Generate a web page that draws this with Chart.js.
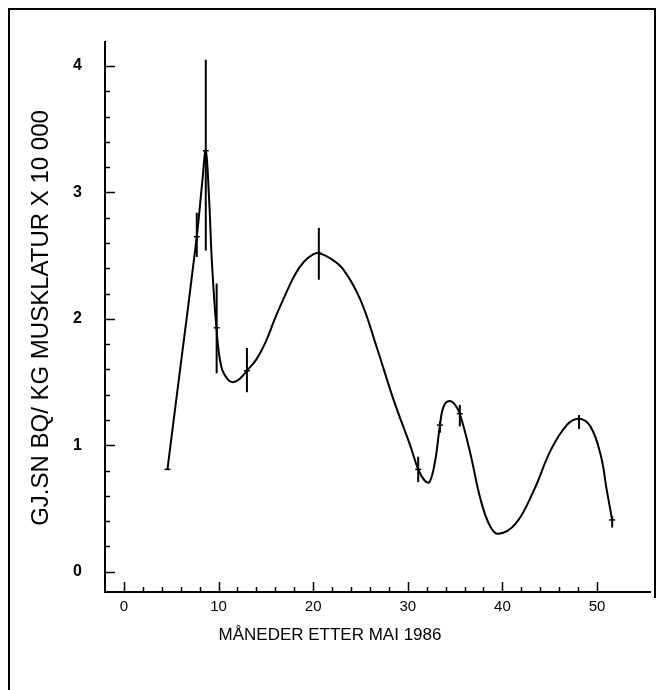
<!DOCTYPE html>
<html>
<head>
<meta charset="utf-8">
<script src="https://cdn.jsdelivr.net/npm/chart.js@4.4.1/dist/chart.umd.min.js"></script>
<style>
  html, body { margin: 0; padding: 0; background: #fff; }
  canvas { display: block; }
</style>
</head>
<body>
<canvas id="chart" width="661" height="690"></canvas>
<script>
// Axis titles and tick labels
const xTitle = "MÅNEDER ETTER MAI 1986";
const yTitle = "GJ.SN BQ/ KG MUSKLATUR X 10 000";
const xTickLabels = [0, 10, 20, 30, 40, 50];
const yTickLabels = [0, 1, 2, 3, 4];

// Measured averages with error bars (months after May 1986)
const pointMonths = [4.6, 7.7, 8.65, 9.8, 13.0, 20.6, 31.1, 33.4, 35.5, 48.1, 51.6];
const pointValues = [0.81, 2.65, 3.33, 1.93, 1.59, 2.52, 0.81, 1.16, 1.25, 1.21, 0.41];
const errLow = [0.81, 2.49, 2.54, 1.57, 1.42, 2.31, 0.71, 1.10, 1.15, 1.13, 0.35];
const errHigh = [0.81, 2.84, 4.05, 2.28, 1.77, 2.72, 0.91, 1.19, 1.32, 1.24, 0.44];

// Fitted curve
const curveMonths = [4.6, 5.8, 7.7, 8.3, 8.65, 9.0, 9.3, 9.8, 10.3, 11.0, 11.6, 12.3, 13.0, 14.0, 15.0, 16.0, 17.0, 18.0, 19.0, 20.0, 20.6, 21.8, 23.2, 25.0, 26.7, 28.5, 30.3, 31.1, 31.8, 32.3, 32.9, 33.4, 33.8, 34.4, 35.0, 35.5, 36.6, 37.7, 38.7, 39.6, 41.4, 43.3, 45.1, 46.8, 48.1, 49.3, 50.4, 51.0, 51.6];
const curveValues = [0.81, 1.52, 2.65, 3.1, 3.33, 2.95, 2.45, 1.91, 1.62, 1.52, 1.50, 1.53, 1.59, 1.68, 1.82, 2.01, 2.18, 2.34, 2.45, 2.51, 2.52, 2.48, 2.39, 2.15, 1.78, 1.36, 0.99, 0.81, 0.72, 0.71, 0.88, 1.16, 1.31, 1.35, 1.32, 1.25, 0.94, 0.57, 0.36, 0.30, 0.38, 0.64, 0.96, 1.16, 1.21, 1.15, 0.92, 0.66, 0.41];

const font = "'Liberation Sans', Arial, sans-serif";

// Frame round the figure, drawn first
const framePlugin = {
  id: "frame",
  beforeDraw(chart) {
    const ctx = chart.ctx;
    ctx.save();
    ctx.fillStyle = "#fff";
    ctx.fillRect(0, 0, chart.width, chart.height);
    ctx.strokeStyle = "#000";
    ctx.lineWidth = 2;
    ctx.beginPath();
    ctx.moveTo(9, 690);
    ctx.lineTo(9, 9);
    ctx.lineTo(655, 9);
    ctx.lineTo(655, 598);
    ctx.stroke();
    ctx.restore();
  }
};

// Inward tick marks, error bars and axis titles
const extrasPlugin = {
  id: "extras",
  afterDraw(chart) {
    const ctx = chart.ctx;
    const xs = chart.scales.x;
    const ys = chart.scales.y;
    const area = chart.chartArea;
    ctx.save();
    ctx.strokeStyle = "#000";
    ctx.lineWidth = 1.5;

    // x ticks point up into the plot
    for (let v = 0; v <= 50; v += 2) {
      const px = Math.round(xs.getPixelForValue(v)) + 0.5;
      const len = v % 10 === 0 ? 10 : 5;
      ctx.beginPath();
      ctx.moveTo(px, area.bottom);
      ctx.lineTo(px, area.bottom - len);
      ctx.stroke();
    }
    // y ticks point right into the plot
    for (let i = 0; i <= 20; i++) {
      const py = Math.round(ys.getPixelForValue(i / 5)) + 0.5;
      const len = i % 5 === 0 ? 10 : 5;
      ctx.beginPath();
      ctx.moveTo(area.left, py);
      ctx.lineTo(area.left + len, py);
      ctx.stroke();
    }

    // error bars
    ctx.lineWidth = 2;
    pointMonths.forEach((m, i) => {
      if (errHigh[i] === errLow[i]) return;
      const px = xs.getPixelForValue(m);
      ctx.beginPath();
      ctx.moveTo(px, ys.getPixelForValue(errLow[i]));
      ctx.lineTo(px, ys.getPixelForValue(errHigh[i]));
      ctx.stroke();
    });

    // titles
    ctx.fillStyle = "#000";
    ctx.font = "17px " + font;
    ctx.textAlign = "center";
    ctx.textBaseline = "middle";
    ctx.fillText(xTitle, 330, 635);
    ctx.translate(41, 318);
    ctx.rotate(-Math.PI / 2);
    ctx.font = "24px " + font;
    ctx.fillText(yTitle, 0, 0);
    ctx.restore();
  }
};

new Chart(document.getElementById("chart"), {
  type: "scatter",
  data: {
    datasets: [
      {
        label: "kurve",
        data: curveMonths.map((m, i) => ({ x: m, y: curveValues[i] })),
        showLine: true,
        borderColor: "#000",
        borderWidth: 2,
        pointRadius: 0,
        tension: 0.4
      },
      {
        label: "målinger",
        data: pointMonths.map((m, i) => ({ x: m, y: pointValues[i] })),
        showLine: false,
        pointStyle: "line",
        pointRadius: 3,
        borderColor: "#000",
        borderWidth: 1.5
      }
    ]
  },
  options: {
    responsive: false,
    animation: false,
    layout: { padding: { top: 42, right: 11, left: 0, bottom: 0 } },
    plugins: {
      legend: { display: false },
      tooltip: { enabled: false }
    },
    scales: {
      x: {
        type: "linear",
        min: -2,
        max: 55.6,
        afterBuildTicks: s => { s.ticks = xTickLabels.map(v => ({ value: v })); },
        afterFit: s => { s.height = 98; },
        grid: { display: false },
        border: { color: "#000", width: 2 },
        ticks: { color: "#000", padding: -2, maxRotation: 0, font: { family: font, size: 15 } }
      },
      y: {
        min: -0.16,
        max: 4.19,
        afterBuildTicks: s => { s.ticks = yTickLabels.map(v => ({ value: v })); },
        afterFit: s => { s.width = 105; },
        grid: { display: false },
        border: { color: "#000", width: 2 },
        ticks: { color: "#000", padding: 15, font: { family: font, size: 16, weight: "bold" } }
      }
    }
  },
  plugins: [framePlugin, extrasPlugin]
});
</script>
</body>
</html>
